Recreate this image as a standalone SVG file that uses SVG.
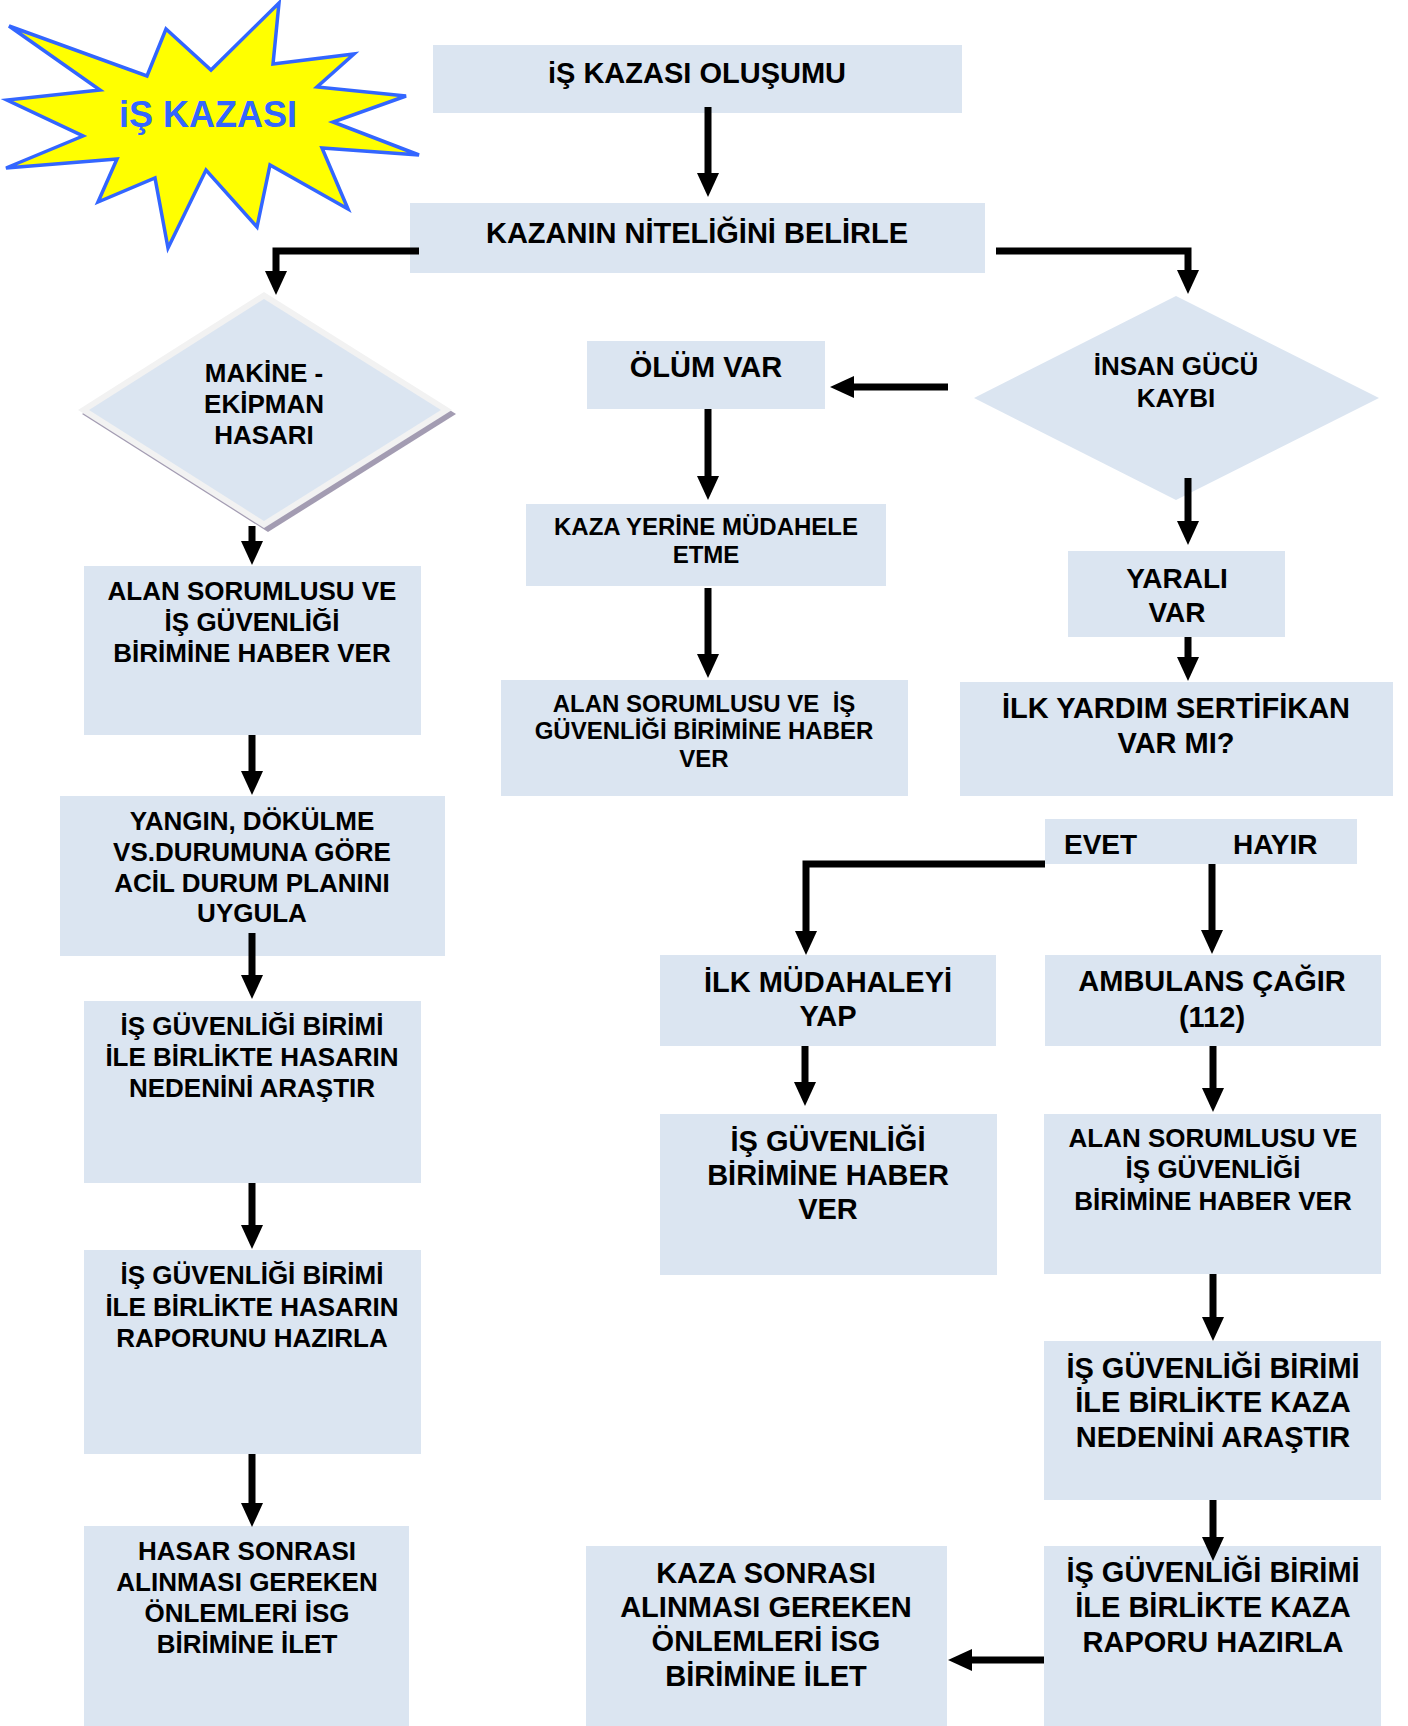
<svg xmlns="http://www.w3.org/2000/svg" width="1408" height="1726" viewBox="0 0 1408 1726">
<style>
text{font-family:"Liberation Sans",Arial,sans-serif;font-weight:bold;fill:#000;text-anchor:middle}
.box{fill:#dbe5f1}
.t24{font-size:24px}.t26{font-size:26px}.t28{font-size:28px}.t29{font-size:29px}
.con{fill:none;stroke:#000;stroke-width:7;marker-end:url(#ah)}
</style>
<defs>
<marker id="ah" viewBox="0 0 24 24" refX="2" refY="12" markerWidth="24" markerHeight="24" markerUnits="userSpaceOnUse" orient="auto">
<path d="M0,1 L24,12 L0,23 Z" fill="#000"/>
</marker>
</defs>
<rect width="1408" height="1726" fill="#fff"/>

<g id="starburst">
<polygon points="9,26 147,76 166,29 211,70 279,3 273,64 354,54 317,87 406,96 333,122 419,155 322,148 348,209 270,165 257,227 206,170 168,248 155,178 98,202 117,159 6,168 83,136 7,100 100,90" fill="#ffff00" stroke="#3366ff" stroke-width="3.5" stroke-linejoin="miter"/>
<text x="208" y="127" style="font-size:36px;fill:#3366ff">iŞ KAZASI</text>
</g>

<g id="n-olusum">
<rect class="box" x="433" y="45" width="529" height="68"/>
<text class="t29" x="697" y="83">iŞ KAZASI OLUŞUMU</text>
</g>

<g id="n-nitelik">
<rect class="box" x="410" y="203" width="575" height="70"/>
<text class="t29" x="697" y="243">KAZANIN NİTELİĞİNİ BELİRLE</text>
</g>

<g id="n-makine">
<polygon points="268,296 456,414 268,532 82,414" fill="#a39cb2"/>
<polygon points="264,292 452,410 264,528 78,410" fill="#f2f2f2"/>
<polygon points="264,299 441,410 264,521 89,410" fill="#dbe5f1"/>
<text class="t26" x="264" y="382">MAKİNE -</text>
<text class="t26" x="264" y="413">EKİPMAN</text>
<text class="t26" x="264" y="444">HASARI</text>
</g>

<g id="n-alan-left">
<rect class="box" x="84" y="566" width="337" height="169"/>
<text class="t26" x="252" y="600">ALAN SORUMLUSU VE</text>
<text class="t26" x="252" y="631">İŞ GÜVENLİĞİ</text>
<text class="t26" x="252" y="662">BİRİMİNE HABER VER</text>
</g>

<g id="n-yangin">
<rect class="box" x="60" y="796" width="385" height="160"/>
<text class="t26" x="252" y="830">YANGIN, DÖKÜLME</text>
<text class="t26" x="252" y="861">VS.DURUMUNA GÖRE</text>
<text class="t26" x="252" y="892">ACİL DURUM PLANINI</text>
<text class="t26" x="252" y="922">UYGULA</text>
</g>

<g id="n-hasar-neden">
<rect class="box" x="84" y="1001" width="337" height="182"/>
<text class="t26" x="252" y="1035">İŞ GÜVENLİĞİ BİRİMİ</text>
<text class="t26" x="252" y="1066">İLE BİRLİKTE HASARIN</text>
<text class="t26" x="252" y="1097">NEDENİNİ ARAŞTIR</text>
</g>

<g id="n-hasar-rapor">
<rect class="box" x="84" y="1250" width="337" height="204"/>
<text class="t26" x="252" y="1284">İŞ GÜVENLİĞİ BİRİMİ</text>
<text class="t26" x="252" y="1316">İLE BİRLİKTE HASARIN</text>
<text class="t26" x="252" y="1347">RAPORUNU HAZIRLA</text>
</g>

<g id="n-hasar-sonrasi">
<rect class="box" x="84" y="1526" width="325" height="200"/>
<text class="t26" x="247" y="1560">HASAR SONRASI</text>
<text class="t26" x="247" y="1591">ALINMASI GEREKEN</text>
<text class="t26" x="247" y="1622">ÖNLEMLERİ İSG</text>
<text class="t26" x="247" y="1653">BİRİMİNE İLET</text>
</g>

<g id="n-olum">
<rect class="box" x="587" y="341" width="238" height="68"/>
<text class="t29" x="706" y="377">ÖLÜM VAR</text>
</g>

<g id="n-mudahale">
<rect class="box" x="526" y="504" width="360" height="82"/>
<text class="t24" x="706" y="535">KAZA YERİNE MÜDAHELE</text>
<text class="t24" x="706" y="563">ETME</text>
</g>

<g id="n-alan-mid">
<rect class="box" x="501" y="680" width="407" height="116"/>
<text class="t24" x="704" y="712" xml:space="preserve">ALAN SORUMLUSU VE  İŞ</text>
<text class="t24" x="704" y="739">GÜVENLİĞİ BİRİMİNE HABER</text>
<text class="t24" x="704" y="767">VER</text>
</g>

<g id="n-insan">
<polygon points="1176,296 1379,398 1176,500 974,398" fill="#dbe5f1"/>
<text class="t26" x="1176" y="375">İNSAN GÜCÜ</text>
<text class="t26" x="1176" y="407">KAYBI</text>
</g>

<g id="n-yarali">
<rect class="box" x="1068" y="551" width="217" height="86"/>
<text class="t28" x="1177" y="588">YARALI</text>
<text class="t28" x="1177" y="622">VAR</text>
</g>

<g id="n-ilkyardim">
<rect class="box" x="960" y="682" width="433" height="114"/>
<text class="t29" x="1176" y="718">İLK YARDIM SERTİFİKAN</text>
<text class="t29" x="1176" y="753">VAR MI?</text>
</g>

<g id="n-evethayir">
<rect class="box" x="1045" y="819" width="312" height="45"/>
<text class="t28" x="1064" y="854" style="text-anchor:start">EVET</text>
<text class="t28" x="1233" y="854" style="text-anchor:start">HAYIR</text>
</g>

<g id="n-ilkmudahale">
<rect class="box" x="660" y="955" width="336" height="91"/>
<text class="t29" x="828" y="992">İLK MÜDAHALEYİ</text>
<text class="t29" x="828" y="1026">YAP</text>
</g>

<g id="n-ambulans">
<rect class="box" x="1045" y="955" width="336" height="91"/>
<text class="t29" x="1212" y="991">AMBULANS ÇAĞIR</text>
<text class="t29" x="1212" y="1027">(112)</text>
</g>

<g id="n-isg-haber">
<rect class="box" x="660" y="1114" width="337" height="161"/>
<text class="t29" x="828" y="1151">İŞ GÜVENLİĞİ</text>
<text class="t29" x="828" y="1185">BİRİMİNE HABER</text>
<text class="t29" x="828" y="1219">VER</text>
</g>

<g id="n-alan-right">
<rect class="box" x="1044" y="1114" width="337" height="160"/>
<text class="t26" x="1213" y="1147">ALAN SORUMLUSU VE</text>
<text class="t26" x="1213" y="1178">İŞ GÜVENLİĞİ</text>
<text class="t26" x="1213" y="1210">BİRİMİNE HABER VER</text>
</g>

<g id="n-kaza-neden">
<rect class="box" x="1044" y="1341" width="337" height="159"/>
<text class="t29" x="1213" y="1378">İŞ GÜVENLİĞİ BİRİMİ</text>
<text class="t29" x="1213" y="1412">İLE BİRLİKTE KAZA</text>
<text class="t29" x="1213" y="1447">NEDENİNİ ARAŞTIR</text>
</g>

<g id="n-kaza-rapor">
<rect class="box" x="1044" y="1546" width="337" height="180"/>
<text class="t29" x="1213" y="1582">İŞ GÜVENLİĞİ BİRİMİ</text>
<text class="t29" x="1213" y="1617">İLE BİRLİKTE KAZA</text>
<text class="t29" x="1213" y="1652">RAPORU HAZIRLA</text>
</g>

<g id="n-kaza-sonrasi">
<rect class="box" x="586" y="1546" width="361" height="180"/>
<text class="t29" x="766" y="1583">KAZA SONRASI</text>
<text class="t29" x="766" y="1617">ALINMASI GEREKEN</text>
<text class="t29" x="766" y="1651">ÖNLEMLERİ İSG</text>
<text class="t29" x="766" y="1686">BİRİMİNE İLET</text>
</g>

<g id="connectors">
<path class="con" d="M708,107 V175"/>
<path class="con" d="M419,251 H276 V273"/>
<path class="con" d="M996,251 H1188 V272"/>
<path class="con" d="M948,387 H852"/>
<path class="con" d="M708,409 V478"/>
<path class="con" d="M708,588 V656"/>
<path class="con" d="M252,526 V543"/>
<path class="con" d="M252,735 V773"/>
<path class="con" d="M252,933 V977"/>
<path class="con" d="M252,1183 V1227"/>
<path class="con" d="M252,1454 V1505"/>
<path class="con" d="M1188,478 V523"/>
<path class="con" d="M1188,637 V659"/>
<path class="con" d="M1045,864 H806 V933"/>
<path class="con" d="M1212,864 V932"/>
<path class="con" d="M805,1046 V1084"/>
<path class="con" d="M1213,1046 V1090"/>
<path class="con" d="M1213,1274 V1319"/>
<path class="con" d="M1213,1500 V1539"/>
<path class="con" d="M1044,1660 H970"/>
</g>
</svg>
